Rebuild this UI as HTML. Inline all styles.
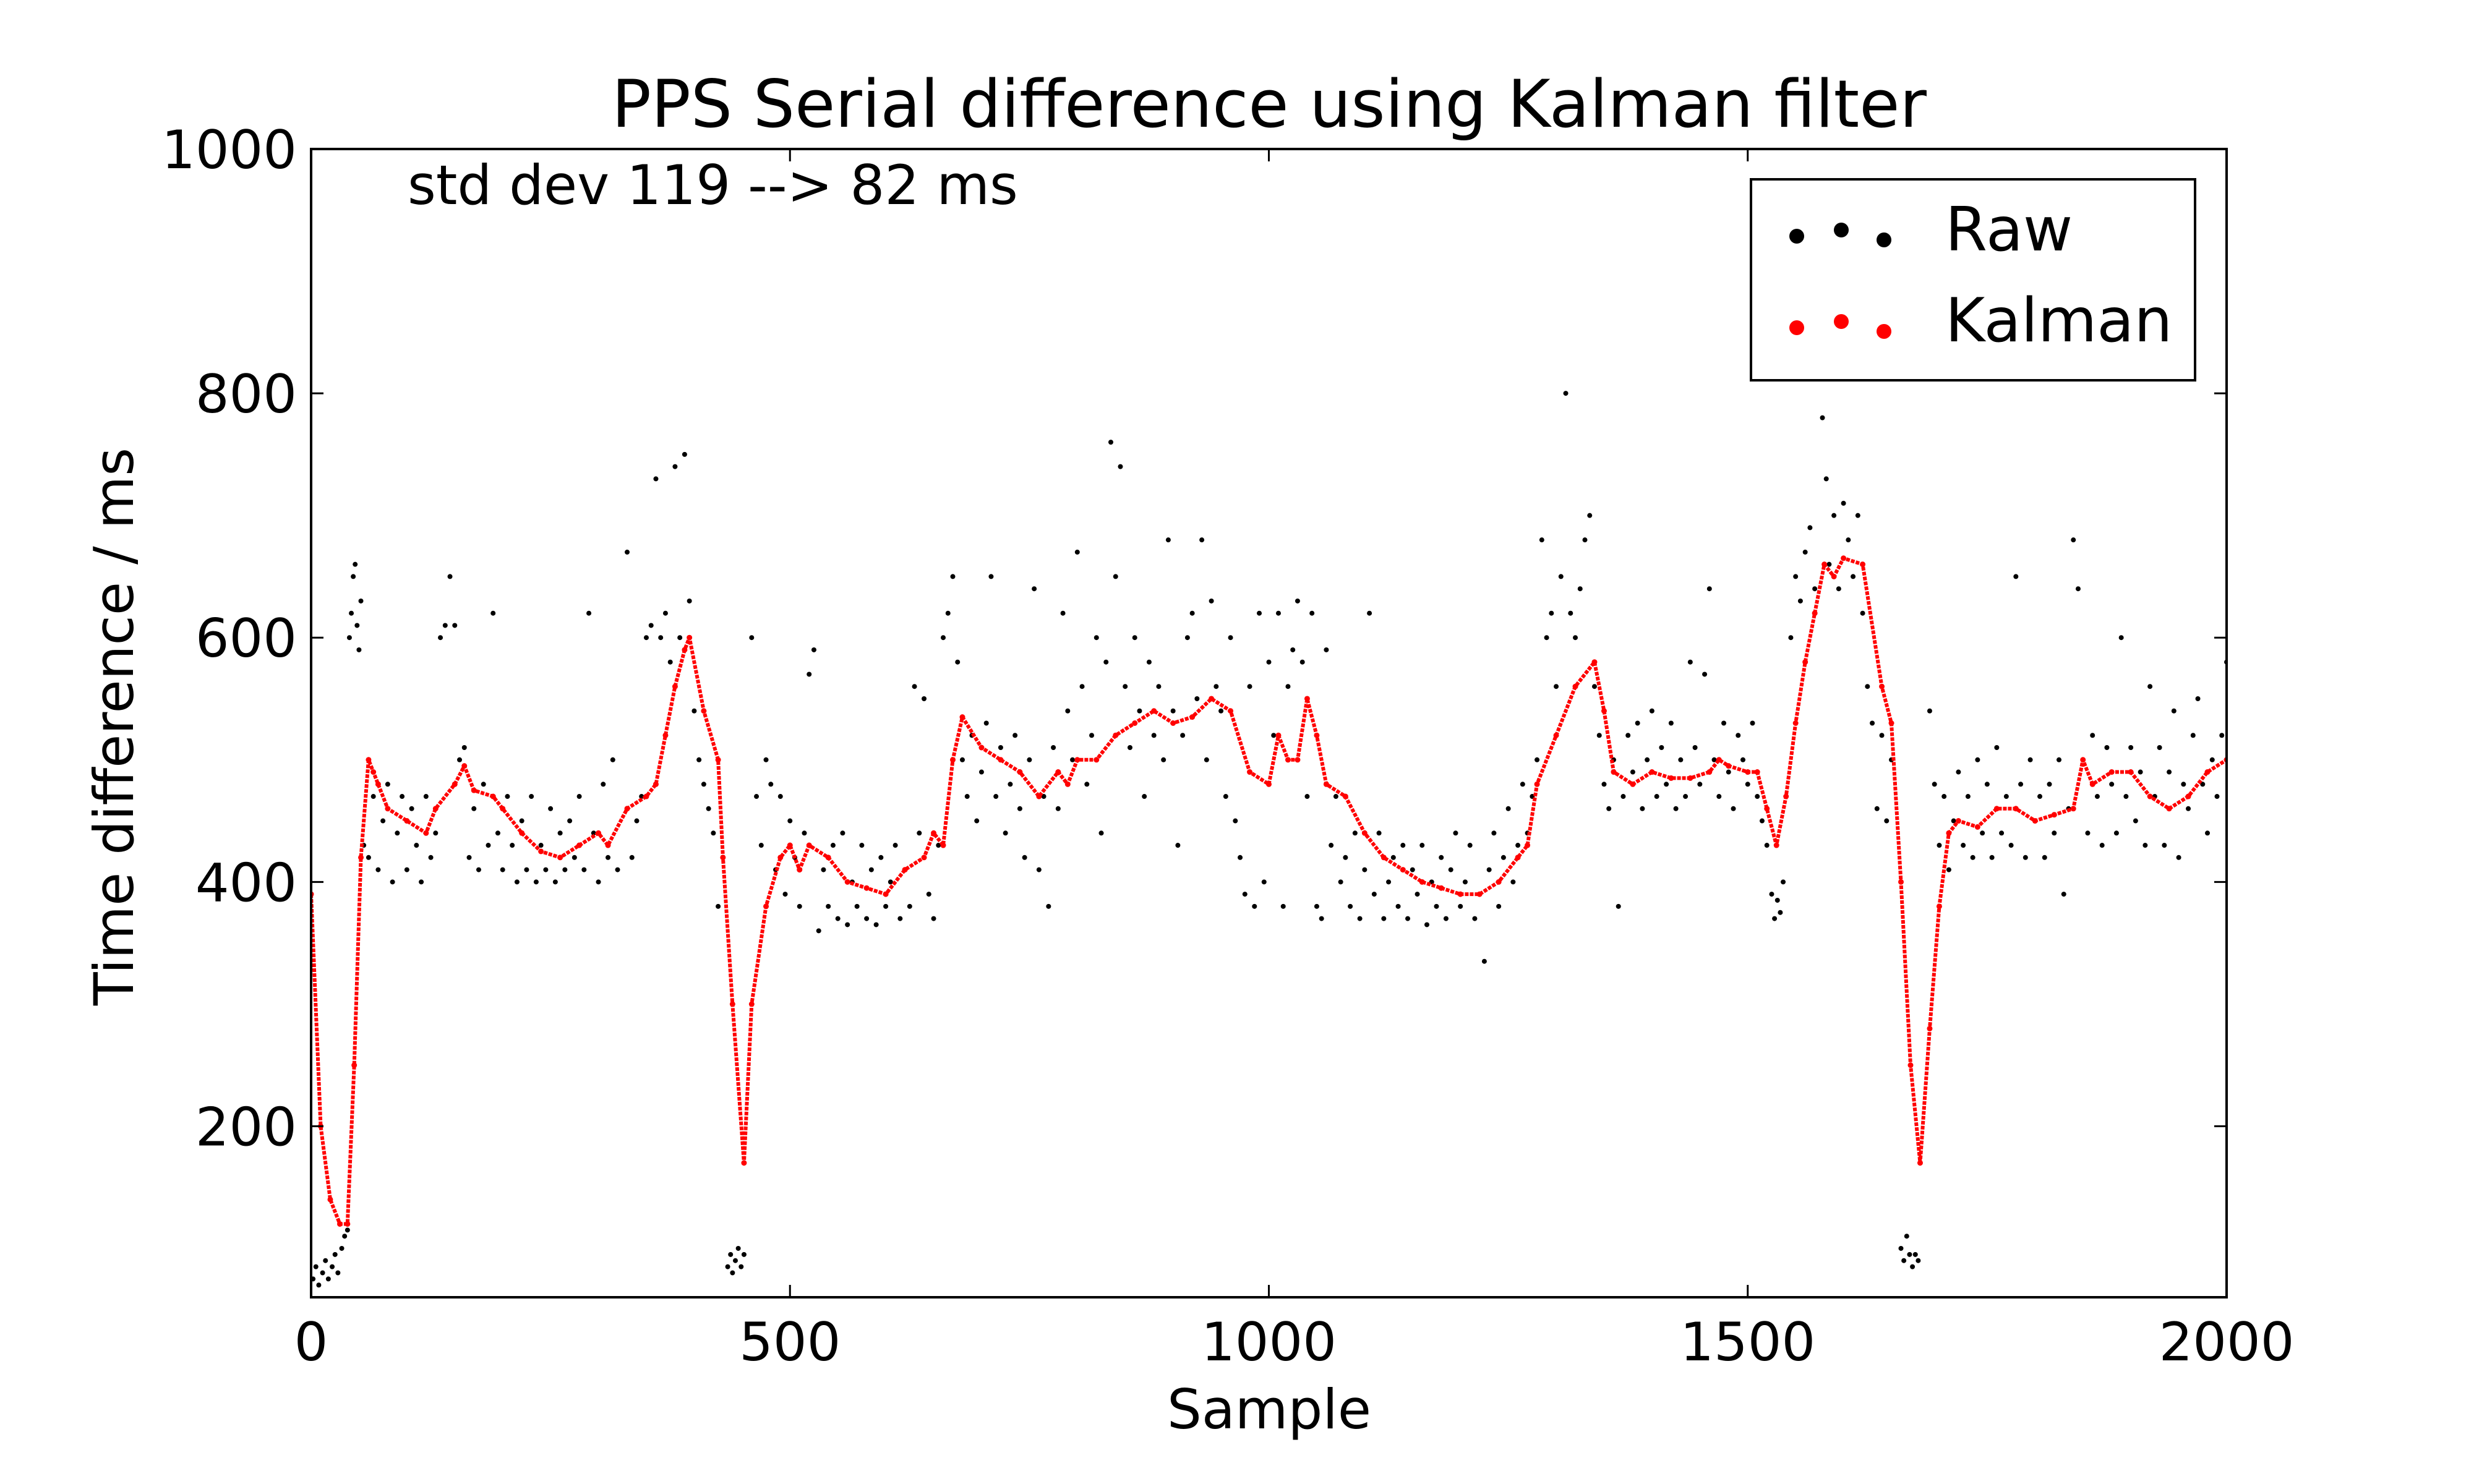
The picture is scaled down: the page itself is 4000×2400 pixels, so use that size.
<!DOCTYPE html>
<html><head><meta charset="utf-8"><style>
html,body{margin:0;padding:0;background:#fff;}
svg{display:block;font-family:"DejaVu Sans","Liberation Sans",sans-serif;}
</style></head><body>
<svg id="chart" width="4000" height="2400" viewBox="0 0 4000 2400" xmlns="http://www.w3.org/2000/svg">
<rect width="4000" height="2400" fill="#fff"/>
<g id="plot"></g>
</svg>
<script>
const xTicks=[0,500,1000,1500,2000];
const yTicks=[200,400,600,800,1000];
const kalSamples=[0,10,20,30,38,45,52,60,65,70,80,100,120,130,150,160,170,190,200,220,240,260,280,300,310,330,350,360,370,380,390,395,410,425,430,440,452,460,475,490,500,510,520,540,560,580,600,620,640,650,660,670,680,700,720,740,760,780,790,800,820,840,860,880,900,920,940,960,980,1000,1010,1020,1030,1040,1050,1060,1080,1100,1120,1140,1160,1180,1200,1220,1240,1260,1270,1280,1300,1320,1340,1350,1360,1380,1400,1420,1440,1460,1470,1480,1500,1510,1520,1530,1540,1550,1560,1570,1580,1590,1600,1620,1640,1650,1660,1670,1680,1690,1700,1710,1720,1740,1760,1780,1800,1820,1840,1850,1860,1880,1900,1920,1940,1960,1980,2000];
const kalValues=[390,200,140,120,120,250,420,500,490,480,460,450,440,460,480,495,475,470,460,440,425,420,430,440,430,460,470,480,520,560,590,600,540,500,420,300,170,300,380,420,430,410,430,420,400,395,390,410,420,440,430,500,535,510,500,490,470,490,480,500,500,520,530,540,530,535,550,540,490,480,520,500,500,550,520,480,470,440,420,410,400,395,390,390,400,420,430,480,520,560,580,540,490,480,490,485,485,490,500,495,490,490,460,430,470,530,580,620,660,650,665,660,560,530,400,250,170,280,380,440,450,445,460,460,450,455,460,500,480,490,490,470,460,470,490,500];
const rawSamples=[2,5,8,12,15,18,22,25,28,32,35,38,40,42,44,46,48,50,52,55,60,65,70,75,80,85,90,95,100,105,110,115,120,125,130,135,140,145,150,155,160,165,170,175,180,185,190,195,200,205,210,215,220,225,230,235,240,245,250,255,260,265,270,275,280,285,290,295,300,305,310,315,320,330,335,340,345,350,355,360,365,370,375,380,385,390,395,400,405,410,415,420,425,435,438,440,443,446,449,452,460,465,470,475,480,485,490,495,500,505,510,515,520,525,530,535,540,545,550,555,560,565,570,575,580,585,590,595,600,605,610,615,620,625,630,635,640,645,650,655,660,665,670,675,680,685,690,695,700,705,710,715,720,725,730,735,740,745,750,755,760,765,770,775,780,785,790,795,800,805,810,815,820,825,830,835,840,845,850,855,860,865,870,875,880,885,890,895,900,905,910,915,920,925,930,935,940,945,950,955,960,965,970,975,980,985,990,995,1000,1005,1010,1015,1020,1025,1030,1035,1040,1045,1050,1055,1060,1065,1070,1075,1080,1085,1090,1095,1100,1105,1110,1115,1120,1125,1130,1135,1140,1145,1150,1155,1160,1165,1170,1175,1180,1185,1190,1195,1200,1205,1210,1215,1220,1225,1230,1235,1240,1245,1250,1255,1260,1265,1270,1275,1280,1285,1290,1295,1300,1305,1310,1315,1320,1325,1330,1335,1340,1345,1350,1355,1360,1365,1370,1375,1380,1385,1390,1395,1400,1405,1410,1415,1420,1425,1430,1435,1440,1445,1450,1455,1460,1465,1470,1475,1480,1485,1490,1495,1500,1505,1510,1515,1520,1525,1528,1531,1534,1537,1545,1550,1555,1560,1565,1570,1575,1578,1582,1585,1590,1595,1600,1605,1610,1615,1620,1625,1630,1635,1640,1645,1650,1660,1663,1666,1669,1672,1675,1678,1690,1695,1700,1705,1710,1715,1720,1725,1730,1735,1740,1745,1750,1755,1760,1765,1770,1775,1780,1785,1790,1795,1800,1805,1810,1815,1820,1825,1830,1835,1840,1845,1850,1855,1860,1865,1870,1875,1880,1885,1890,1895,1900,1905,1910,1915,1920,1925,1930,1935,1940,1945,1950,1955,1960,1965,1970,1975,1980,1985,1990,1995,2000];
const rawValues=[75,85,70,80,90,75,85,95,80,100,110,115,600,620,650,660,610,590,630,430,420,470,410,450,480,400,440,470,410,460,430,400,470,420,440,600,610,650,610,500,510,420,460,410,480,430,620,440,410,470,430,400,450,410,470,400,430,410,460,400,440,410,450,420,470,410,620,440,400,480,420,500,410,670,420,450,470,600,610,730,600,620,580,740,600,750,630,540,500,480,460,440,380,85,95,80,90,100,85,95,600,470,430,500,480,410,470,390,450,420,380,440,570,590,360,410,380,430,370,440,365,400,380,430,370,410,365,420,380,400,430,370,410,380,560,440,550,390,370,430,600,620,650,580,500,470,520,450,490,530,650,470,510,440,480,520,460,420,500,640,410,470,380,510,460,620,540,500,670,560,480,520,600,440,580,760,650,740,560,510,600,540,470,580,520,560,500,680,540,430,520,600,620,550,680,500,630,560,540,470,600,450,420,390,560,380,620,400,580,520,620,380,560,590,630,580,470,620,380,370,590,430,470,400,420,380,440,370,410,620,390,440,370,400,420,380,430,370,410,390,430,365,400,380,420,370,410,440,380,400,430,370,390,335,410,440,380,420,460,400,430,480,440,470,500,680,600,620,560,650,800,620,600,640,680,700,560,520,480,460,500,380,470,520,490,530,460,500,540,470,510,480,530,460,500,470,580,510,480,570,640,500,470,530,490,460,520,500,480,530,470,450,430,390,370,385,375,400,600,650,630,670,690,640,820,780,730,660,700,640,710,680,650,700,620,560,530,460,520,450,500,100,90,110,95,85,95,90,540,480,430,470,410,450,490,430,470,420,500,440,480,420,510,440,470,430,650,480,420,500,450,470,420,480,440,500,390,460,680,640,500,440,520,470,430,510,480,440,600,470,510,450,490,430,560,470,510,430,490,540,420,480,460,520,550,480,440,500,470,520,580];

const NS='http://www.w3.org/2000/svg';
const L=503,R=3600,T=241,B=2098,XMIN=0,XMAX=2000,YMIN=60,YMAX=1000;
const xs=v=>L+(v-XMIN)/(XMAX-XMIN)*(R-L);
const ys=v=>B-(v-YMIN)/(YMAX-YMIN)*(B-T);
const g=document.getElementById('plot');
function mk(tag,attrs,parent){const e=document.createElementNS(NS,tag);for(const k in attrs)e.setAttribute(k,attrs[k]);(parent||g).appendChild(e);return e;}

const defs=mk('defs',{});
const cp=mk('clipPath',{id:'clip'},defs);
mk('rect',{x:L,y:T,width:R-L,height:B-T},cp);

const rawG=mk('g',{'clip-path':'url(#clip)'});


for(let i=0;i<rawSamples.length;i++){
  const c=mk('circle',{cx:xs(rawSamples[i]),cy:ys(rawValues[i]),r:4,fill:'#000'},rawG);
  
  
}
const kg=mk('g',{'clip-path':'url(#clip)'});


const pts=kalSamples.map((s,i)=>xs(s).toFixed(1)+','+ys(kalValues[i]).toFixed(1)).join(' ');
const kl=mk('polyline',{points:pts,fill:'none',stroke:'#f00','stroke-width':6,'stroke-dasharray':'6 2','stroke-linejoin':'round'},kg);


for(let i=0;i<kalSamples.length;i++){
  const c=mk('circle',{cx:xs(kalSamples[i]),cy:ys(kalValues[i]),r:4.5,fill:'#f00'},kg);
  
  
}

const fr=mk('rect',{x:L,y:T,width:R-L,height:B-T,fill:'none',stroke:'#000','stroke-width':4});



xTicks.forEach(t=>{
  const x=xs(t);
  mk('line',{x1:x,y1:B,x2:x,y2:B-20,stroke:'#000','stroke-width':3});
  mk('line',{x1:x,y1:T,x2:x,y2:T+20,stroke:'#000','stroke-width':3});
  const tx=mk('text',{x:x,y:2200,'font-size':86,'text-anchor':'middle',fill:'#000'});
  tx.textContent=t;
  
  
});
yTicks.forEach(t=>{
  const y=ys(t);
  mk('line',{x1:L,y1:y,x2:L+20,y2:y,stroke:'#000','stroke-width':3});
  mk('line',{x1:R,y1:y,x2:R-20,y2:y,stroke:'#000','stroke-width':3});
  const tx=mk('text',{x:480,y:y+31,'font-size':86,'text-anchor':'end',fill:'#000'});
  tx.textContent=t;
  
  
});

function txt(s,attrs,name){const e=mk('text',attrs);e.textContent=s;return e;}
txt('PPS Serial difference using Kalman filter',{x:2052,y:205,'font-size':106,'text-anchor':'middle'},'chart-title');
txt('Sample',{x:2052,y:2310,'font-size':88,'text-anchor':'middle'},'x-axis-title');
txt('Time difference / ms',{x:0,y:0,'font-size':88,'text-anchor':'middle',transform:'translate(215,1175) rotate(-90)'},'y-axis-title');
txt('std dev 119 --> 82 ms',{x:659,y:330,'font-size':88},'std-dev-annotation');

const lg=mk('g',{});


mk('rect',{x:2831,y:290,width:718,height:325,fill:'#fff',stroke:'#000','stroke-width':4},lg);
[[2905,382],[2977,372],[3046,388]].forEach(p=>mk('circle',{cx:p[0],cy:p[1],r:12,fill:'#000'},lg));
[[2905,530],[2977,520],[3046,536]].forEach(p=>mk('circle',{cx:p[0],cy:p[1],r:12,fill:'#f00'},lg));
const t1=mk('text',{x:3145,y:405,'font-size':98},lg);t1.textContent='Raw';


const t2=mk('text',{x:3145,y:552,'font-size':98},lg);t2.textContent='Kalman';


</script>
</body></html>
